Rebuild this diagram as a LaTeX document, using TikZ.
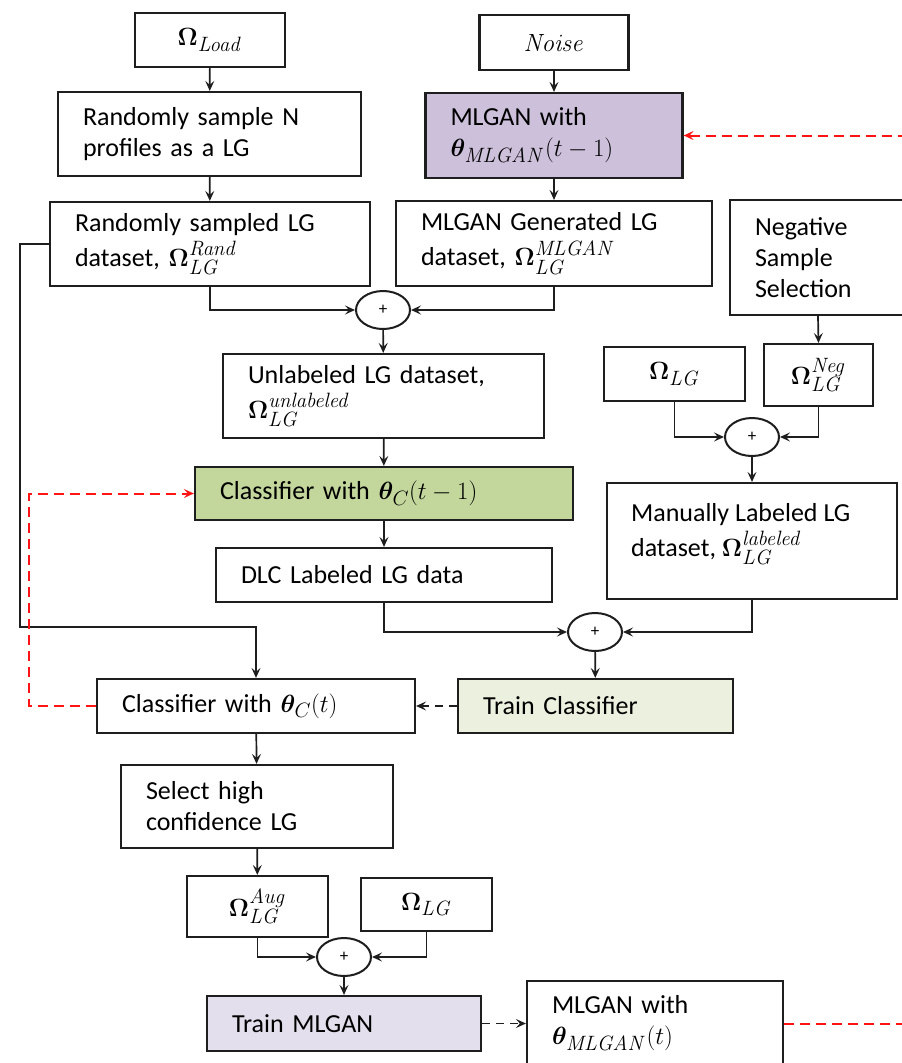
\documentclass[tikz,border=0pt]{standalone}
\usepackage{bm}
\usepackage[no-math]{fontspec}
\setmainfont{Carlito}
\DeclareMathSizes{26}{26}{21}{16}
\usetikzlibrary{arrows.meta,shapes.geometric}
\definecolor{mlganfill}{RGB}{204,192,218}
\definecolor{clsfill}{RGB}{195,214,155}
\definecolor{tcfill}{RGB}{235,241,222}
\definecolor{tmfill}{RGB}{228,223,236}
\definecolor{redline}{RGB}{255,20,20}
\definecolor{lineblack}{RGB}{30,30,30}
\newcommand{\OmLG}[1]{\mathbf{\Omega}_{\raisebox{-2pt}{$\scriptstyle\mathit{LG}$}}^{\raisebox{1.5pt}{$\scriptstyle\mathit{#1}$}}}
\begin{document}
\begin{tikzpicture}[x=1pt,y=-1pt,
  box/.style={draw=lineblack, line width=2.2pt, inner xsep=25pt, inner ysep=2pt, align=left, font=\fontsize{26}{31}\selectfont},
  cbox/.style={draw=lineblack, line width=2.2pt, inner sep=2pt, align=center, font=\fontsize{26}{31}\selectfont},
  txt/.style={inner sep=0pt, align=left, font=\fontsize{26}{31}\selectfont},
  sumnode/.style={draw=lineblack, ellipse, line width=2pt, minimum width=54pt, minimum height=38pt, inner sep=0pt, font=\fontsize{17}{17}\selectfont},
  arr/.style={draw=lineblack, line width=1.7pt, -{Stealth[length=10pt,width=9pt,inset=4pt]}},
  darr/.style={arr, dash pattern=on 8pt off 6pt},
  rarr/.style={draw=redline, color=redline, line width=2pt, dash pattern=on 10pt off 6pt, -{Stealth[length=10pt,width=9pt,inset=4pt]}},
]
\useasboundingbox (0,0) rectangle (902,1063);
\fill[white] (0,0) rectangle (902,1063);
\clip (0,0) rectangle (902,1063);

% left column top
\node[cbox, minimum width=150pt, minimum height=54pt] (load) at (210,40) {$\mathbf{\Omega}_{\mathit{Load}}$};
\node[box, text width=253pt, minimum height=84pt] (rsamp) at (209.5,134) {Randomly sample N\\profiles as a LG};
\node[box, text width=270pt, minimum height=84pt] (rset) at (210,244) {Randomly sampled LG\\[4pt]dataset, $\OmLG{Rand}$};

% middle column top
\node[cbox, minimum width=149pt, minimum height=55pt] (noise) at (554,42.5) {$\mathit{Noise}$};
\node[box, fill=mlganfill, text width=207pt, minimum height=85pt] (mlgan1) at (554,135.5) {MLGAN with\\$\bm{\theta}_{\mathit{MLGAN}}(t-1)$};
\node[box, text width=266pt, minimum height=85pt] (mgen) at (554,243.5) {MLGAN Generated LG\\[4pt]dataset, $\OmLG{MLGAN}$};

% right column
\node[box, text width=126pt, minimum height=115pt] (neg) at (818,257.5) {Negative\\Sample\\Selection};
\node[cbox, minimum width=141pt, minimum height=54pt] (omlg1) at (674.5,374) {$\mathbf{\Omega}_{\mathit{LG}}$};
\node[cbox, minimum width=109pt, minimum height=62pt] (omneg) at (818.5,375) {$\OmLG{Neg}$};
\node[sumnode] (sumr) at (752,437) {+};
\node[draw=lineblack, line width=2.2pt, minimum width=290pt, minimum height=116pt, inner sep=0pt] (manual) at (752,541) {};
\node[txt, anchor=north west] (manualtxt) at ([xshift=25pt,yshift=-21pt]manual.north west) {Manually Labeled LG\\[4pt]dataset, $\OmLG{labeled}$};

% centre column
\node[sumnode] (sum1) at (383,310) {+};
\node[box, text width=271pt, minimum height=84pt] (unl) at (383.5,396) {Unlabeled LG dataset,\\[4pt]$\OmLG{unlabeled}$};
\node[box, fill=clsfill, text width=328pt, minimum height=53pt] (clsm1) at (384,493.5) {Classifier with $\bm{\theta}_{C}(t-1)$};
\node[box, text width=286pt, minimum height=54pt] (dlc) at (384,575) {DLC Labeled LG data};
\node[sumnode] (sum2) at (595,632) {+};
\node[box, fill=tcfill, text width=225pt, minimum height=54pt] (traincls) at (595.5,706) {Train Classifier};
\node[box, text width=268pt, minimum height=54pt] (clst) at (256,706) {Classifier with $\bm{\theta}_{C}(t)$};

% bottom
\node[box, text width=222pt, minimum height=83pt] (sel) at (257,806.5) {Select high\\confidence LG};
\node[cbox, minimum width=141pt, minimum height=61pt] (aug) at (257.5,906.5) {$\OmLG{Aug}$};
\node[cbox, minimum width=131pt, minimum height=53pt] (omlg2) at (426.5,904.5) {$\mathbf{\Omega}_{\mathit{LG}}$};
\node[sumnode] (sum3) at (344,957) {+};
\node[box, fill=tmfill, text width=224pt, minimum height=55pt] (trainmlgan) at (344,1023.5) {Train MLGAN};
\node[box, text width=206pt, minimum height=85pt] (mlgant) at (655,1023.5) {MLGAN with\\$\bm{\theta}_{\mathit{MLGAN}}(t)$};

% connectors
\draw[arr] (load) -- (rsamp);
\draw[arr] (rsamp) -- (rset);
\draw[arr] (noise) -- (mlgan1);
\draw[arr] (mlgan1) -- (mgen);
\draw[arr] (rset.south) |- (sum1.west);
\draw[arr] (mgen.south) |- (sum1.east);
\draw[arr] (sum1) -- (unl);
\draw[arr] (unl) -- (clsm1);
\draw[arr] (clsm1) -- (dlc);
\draw[arr] (neg.south) -- (omneg.north);
\draw[arr] (omlg1.south) |- (sumr.west);
\draw[arr] (omneg.south) |- (sumr.east);
\draw[arr] (sumr) -- (manual);
\draw[arr] (dlc.south) |- (sum2.west);
\draw[arr] (manual.south) |- (sum2.east);
\draw[arr] (sum2) -- (traincls);
\coordinate (lj) at (20,627);
\draw[arr] (rset.west) -| (lj) -| (clst.north);
\draw[darr] (traincls.west) -- (clst.east);
\draw[arr] (clst) -- (sel);
\draw[arr] (sel) -- (aug);
\draw[arr] (aug.south) |- (sum3.west);
\draw[arr] (omlg2.south) |- (sum3.east);
\draw[arr] (sum3) -- (trainmlgan);
\draw[darr] (trainmlgan.east) -- (mlgant.west);

% red feedback loops
\coordinate (rl) at (29,493.5);
\draw[rarr] (clst.west) -| (rl) -- (clsm1.west);
\coordinate (rr1) at (930,1023.5);
\coordinate (rr2) at (930,135.5);
\draw[rarr] (mlgant.east) -- (rr1) -- (rr2) -- (mlgan1.east);
\end{tikzpicture}
\end{document}
